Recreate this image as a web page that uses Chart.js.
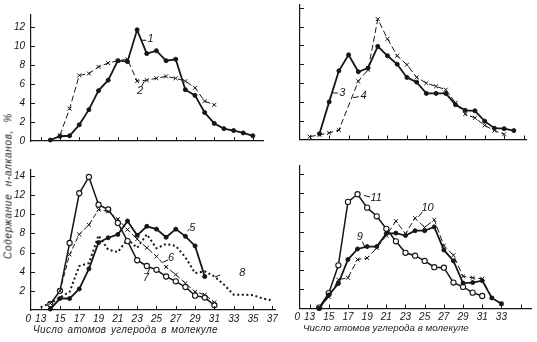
<!DOCTYPE html>
<html lang="ru">
<head>
<meta charset="utf-8">
<title>Распределение н-алканов</title>
<script src="https://cdn.jsdelivr.net/npm/chart.js@4.4.1/dist/chart.umd.min.js"></script>
<style>
  html, body { margin: 0; padding: 0; background: #fff; }
  #wrap {
    position: relative; width: 537px; height: 342px; overflow: hidden;
    font-family: "Liberation Sans", Arial, sans-serif; font-style: italic; color: #1a1a1a;
  }
  #wrap canvas { position: absolute; left: 0; top: 0; }
  .axis-title { position: absolute; white-space: nowrap; font-size: 10px; }
  #y-title { left: 8px; top: 186px; letter-spacing: 0.7px; word-spacing: 4px; transform: translate(-50%, -50%) rotate(-90deg); }
  #x-title-left { left: 33px; top: 324px; letter-spacing: 0.3px; word-spacing: 1.5px; }
  #x-title-right { left: 303px; top: 322px; font-size: 9.8px; }
</style>
</head>
<body>
<div id="wrap">
  <canvas id="panel-tl" width="537" height="342"></canvas>
  <canvas id="panel-tr" width="537" height="342"></canvas>
  <canvas id="panel-bl" width="537" height="342"></canvas>
  <canvas id="panel-br" width="537" height="342"></canvas>
  <div class="axis-title" id="y-title">Содержание н-алканов, %</div>
  <div class="axis-title" id="x-title-left">Число атомов углерода в молекуле</div>
  <div class="axis-title" id="x-title-right">Число атомов углерода в молекуле</div>
</div>
<script>
// carbon number -> n-alkane content, %
const range = (a, b) => Array.from({ length: b - a + 1 }, (_, i) => a + i);

// upper left: curves 1, 2
const carbons1 = range(14, 35);
const values1 = [0.1, 0.5, 0.55, 1.7, 3.3, 5.3, 6.4, 8.45, 8.35, 11.7, 9.2, 9.5, 8.45, 8.6, 5.4, 4.8, 3.0, 1.85, 1.3, 1.1, 0.85, 0.55];
const carbons2 = range(15, 31);
const values2 = [0.6, 3.4, 6.9, 7.1, 7.8, 8.2, 8.45, 8.6, 6.3, 6.4, 6.6, 6.8, 6.6, 6.3, 5.6, 4.2, 3.8];

// upper right: curves 3, 4
const carbons3 = range(14, 34);
const values3 = [0.6, 4.0, 7.3, 9.0, 7.2, 7.6, 9.9, 8.9, 8.0, 6.6, 6.1, 4.9, 4.9, 4.9, 3.7, 3.1, 3.05, 1.95, 1.2, 1.15, 0.95];
const carbons4 = [13, 14, 15, 16].concat(range(18, 33));
const values4 = [0.3, 0.5, 0.7, 1.0, 6.2, 7.4, 12.8, 10.7, 8.9, 7.95, 6.6, 6.0, 5.65, 5.3, 3.9, 2.7, 2.3, 1.5, 0.95, 0.55];

// lower left: curves 5 - 8
const carbons5 = range(14, 30);
const values5 = [0.1, 1.2, 1.2, 2.2, 4.3, 7.05, 7.55, 7.9, 9.3, 7.8, 8.75, 8.45, 7.6, 8.45, 7.7, 6.7, 3.5];
const carbons6 = range(14, 31);
const values6 = [0.7, 2.0, 5.8, 7.9, 8.9, 10.5, 10.3, 9.5, 8.4, 7.4, 6.5, 5.6, 4.5, 3.7, 2.8, 1.9, 1.6, 0.8];
const carbons7 = range(14, 31);
const values7 = [0.6, 2.0, 7.0, 12.2, 13.9, 11.0, 10.5, 9.1, 7.2, 5.2, 4.6, 4.2, 3.5, 3.0, 2.4, 1.5, 1.3, 0.5];
const carbons8 = range(13, 37);
const values8 = [0.3, 0.7, 1.3, 1.9, 4.6, 4.9, 7.8, 6.3, 6.05, 7.4, 6.5, 7.9, 6.45, 6.9, 6.7, 5.5, 3.85, 4.05, 3.5, 2.65, 1.6, 1.6, 1.55, 1.2, 1.0];

// lower right: curves 9 - 11
const carbons9 = range(14, 33);
const values9 = [0, 1.4, 2.6, 5.1, 6.2, 6.45, 6.45, 7.8, 7.85, 7.6, 8.1, 8.1, 8.5, 6.1, 4.95, 2.65, 2.7, 2.9, 1.1, 0.5];
const carbons10 = range(14, 33);
const values10 = [0, 1.2, 3.0, 3.2, 5.1, 5.25, 6.3, 7.6, 9.1, 7.8, 9.4, 8.45, 9.25, 6.55, 5.55, 3.35, 3.2, 3.1, 1.1, 0.5];
const carbons11 = range(14, 31);
const values11 = [0.1, 1.6, 4.5, 11.1, 11.9, 10.5, 9.6, 8.3, 7.0, 5.8, 5.5, 4.95, 4.3, 4.25, 2.7, 2.25, 1.65, 1.3];

// axis ticks; 12 sits on the origin and is printed as "0"
const xTicks = [12, 13, 15, 17, 19, 21, 23, 25, 27, 29, 31, 33, 35, 37];
const yTicks = [0, 2, 4, 6, 8, 10, 12, 14];

const W = 537, H = 342;
const INK = '#161616';
const TICK_LEN = 4;
const TICK_FONT = { family: 'Liberation Sans', size: 10, style: 'italic' };
const TAG_FONT = 'italic 11px "Liberation Sans", Arial, sans-serif';

// line looks
const SOLID_DOT = { borderWidth: 1.8, pointStyle: 'circle', pointRadius: 2, pointBackgroundColor: INK, pointBorderColor: INK, pointBorderWidth: 1 };
const SOLID_RING = { borderWidth: 1.5, pointStyle: 'circle', pointRadius: 2.6, pointBackgroundColor: '#fff', pointBorderColor: INK, pointBorderWidth: 1.1 };
const DASH_CROSS = { borderWidth: 1, borderDash: [6, 3], pointStyle: 'crossRot', pointRadius: 2.8, pointBorderColor: INK, pointBorderWidth: 1 };
const DOTTED = { borderWidth: 2, borderDash: [2, 2.6], pointRadius: 0 };

function curve(xs, ys, look) {
    return Object.assign({
        data: xs.map((c, i) => ({ x: c, y: ys[i] })),
        borderColor: INK,
        fill: false,
        tension: 0,
        clip: 8
    }, look);
}

// short tick marks pointing into the plot
const inwardTicks = {
    id: 'inwardTicks',
    afterDraw(chart) {
        const { ctx, chartArea: a, scales: { x, y } } = chart;
        ctx.save();
        ctx.strokeStyle = INK;
        ctx.lineWidth = 1;
        ctx.beginPath();
        x.ticks.forEach(t => {
            if (t.value <= x.min) return;
            const px = Math.round(x.getPixelForValue(t.value)) + 0.5;
            ctx.moveTo(px, a.bottom);
            ctx.lineTo(px, a.bottom - TICK_LEN);
        });
        y.ticks.forEach(t => {
            if (t.value <= y.min) return;
            const py = Math.round(y.getPixelForValue(t.value)) + 0.5;
            ctx.moveTo(a.left, py);
            ctx.lineTo(a.left + TICK_LEN, py);
        });
        ctx.stroke();
        ctx.restore();
    }
};

// curve numbers with their leader strokes, placed in data units
function tagPlugin(tags) {
    return {
        id: 'curveTags',
        afterDatasetsDraw(chart) {
            const { ctx, scales: { x, y } } = chart;
            ctx.save();
            ctx.strokeStyle = INK;
            ctx.fillStyle = INK;
            ctx.lineWidth = 1;
            ctx.font = TAG_FONT;
            ctx.textAlign = 'center';
            ctx.textBaseline = 'middle';
            tags.forEach(tag => {
                ctx.beginPath();
                ctx.moveTo(x.getPixelForValue(tag.lead[0]), y.getPixelForValue(tag.lead[1]));
                ctx.lineTo(x.getPixelForValue(tag.lead[2]), y.getPixelForValue(tag.lead[3]));
                ctx.stroke();
                ctx.fillText(tag.text, x.getPixelForValue(tag.at[0]), y.getPixelForValue(tag.at[1]));
            });
            ctx.restore();
        }
    };
}

// the origin "0" sits a little left of the axis, so pad it on the right
const xLabelText = (v, maxShown) => (v === 12 ? '0  ' : (v <= maxShown ? String(v) : ''));

function makePanel(id, p, datasets, tags) {
    // label boxes must be wide enough: Chart.js clips tick labels to the scale box
    const yW = p.yLabels ? p.area.l - 1 : 2;
    const xH = p.xLabels ? 16 : 2;
    return new Chart(document.getElementById(id), {
        type: 'line',
        data: { datasets },
        plugins: [inwardTicks, tagPlugin(tags)],
        options: {
            responsive: false,
            animation: false,
            events: [],
            layout: { padding: { left: p.area.l - yW, right: W - p.area.r, top: p.area.t, bottom: H - p.area.b - xH } },
            plugins: { legend: { display: false }, tooltip: { enabled: false } },
            scales: {
                x: {
                    type: 'linear', min: 12, max: p.xMax,
                    grid: { display: false, drawTicks: false },
                    border: { color: INK, width: 1.2 },
                    afterBuildTicks: s => { s.ticks = xTicks.filter(v => v <= p.xMax).map(v => ({ value: v })); },
                    afterFit: s => { s.height = xH; },
                    ticks: {
                        display: p.xLabels, autoSkip: false, maxRotation: 0, padding: 3,
                        color: INK, font: TICK_FONT,
                        callback: v => xLabelText(v, p.xLabelMax)
                    }
                },
                y: {
                    type: 'linear', min: 0, max: p.yMax,
                    grid: { display: false, drawTicks: false },
                    border: { color: INK, width: 1.2 },
                    afterBuildTicks: s => { s.ticks = yTicks.filter(v => v <= p.yMax).map(v => ({ value: v })); },
                    afterFit: s => { s.width = yW; },
                    ticks: {
                        display: p.yLabels, autoSkip: false, padding: 6,
                        color: INK, font: TICK_FONT,
                        callback: v => (v >= p.yLabelMin ? String(v) : '')
                    }
                }
            }
        }
    });
}

makePanel('panel-tl',
    { area: { l: 31, r: 263, t: 15, b: 141 }, xMax: 36.05, yMax: 13.26, xLabels: false, yLabels: true, yLabelMin: 0, xLabelMax: 0 },
    [curve(carbons1, values1, SOLID_DOT), curve(carbons2, values2, DASH_CROSS)],
    [
        { text: '1', at: [24.4, 10.7], lead: [23.42, 10.6, 23.95, 10.6] },
        { text: '2', at: [23.3, 5.3], lead: [23.47, 5.75, 23.72, 6.25] }
    ]);

makePanel('panel-tr',
    { area: { l: 300, r: 526, t: 2, b: 139.5 }, xMax: 35.25, yMax: 14.3, xLabels: false, yLabels: false, yLabelMin: 0, xLabelMax: 0 },
    [curve(carbons3, values3, SOLID_DOT), curve(carbons4, values4, DASH_CROSS)],
    [
        { text: '3', at: [16.35, 4.95], lead: [15.4, 4.95, 15.9, 4.95] },
        { text: '4', at: [18.55, 4.6], lead: [17.45, 4.45, 18.05, 4.55] }
    ]);

makePanel('panel-bl',
    { area: { l: 31, r: 275, t: 170, b: 310 }, xMax: 37.28, yMax: 14.63, xLabels: true, yLabels: true, yLabelMin: 2, xLabelMax: 37 },
    [
        curve(carbons5, values5, SOLID_DOT),
        curve(carbons6, values6, Object.assign({}, DASH_CROSS, { borderDash: [5, 2.5] })),
        curve(carbons7, values7, SOLID_RING),
        curve(carbons8, values8, DOTTED)
    ],
    [
        { text: '5', at: [28.7, 8.6], lead: [28.2, 8.25, 28.42, 8.45] },
        { text: '6', at: [26.5, 5.4], lead: [25.68, 5.0, 26.2, 5.23] },
        { text: '7', at: [23.92, 3.3], lead: [24.05, 3.76, 24.3, 4.4] },
        { text: '8', at: [33.9, 3.85], lead: [31.07, 3.45, 31.59, 3.66] }
    ]);

makePanel('panel-br',
    { area: { l: 300, r: 535, t: 166, b: 308.5 }, xMax: 36.18, yMax: 14.84, xLabels: true, yLabels: false, yLabelMin: 0, xLabelMax: 33 },
    [
        curve(carbons9, values9, SOLID_DOT),
        curve(carbons10, values10, DASH_CROSS),
        curve(carbons11, values11, SOLID_RING)
    ],
    [
        { text: '9', at: [18.24, 7.5], lead: [18.51, 6.95, 18.76, 6.4] },
        { text: '10', at: [25.3, 10.5], lead: [24.76, 10.06, 24.35, 9.54] },
        { text: '11', at: [19.95, 11.5], lead: [19.3, 11.62, 18.7, 11.77] }
    ]);
</script>
</body>
</html>
